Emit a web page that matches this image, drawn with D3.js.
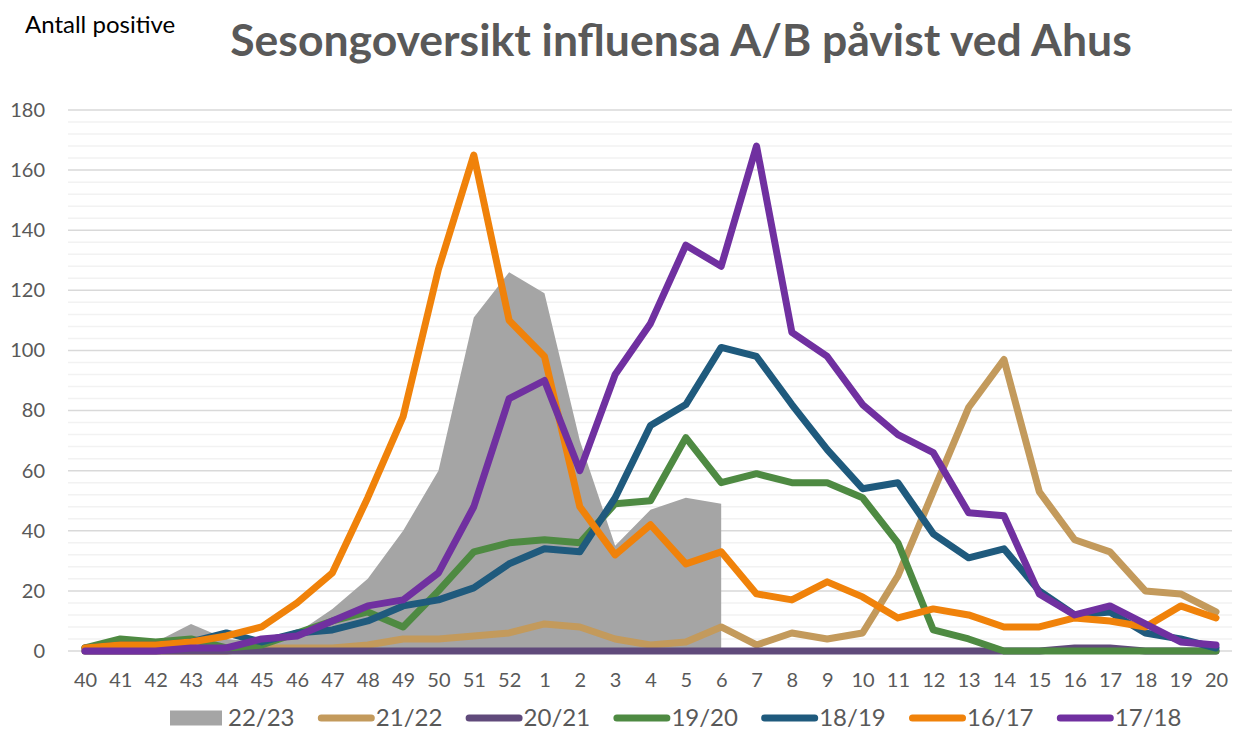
<!DOCTYPE html>
<html>
<head>
<meta charset="utf-8">
<script src="https://cdn.jsdelivr.net/npm/d3@7"></script>
<style>
  body { margin: 0; background: #fff; }
  text { font-family: Lato, "Open Sans", sans-serif; }
</style>
</head>
<body>
<svg id="chart" width="1234" height="731"></svg>
<script>
// weeks, season 40 -> 20
const weeks = ["40","41","42","43","44","45","46","47","48","49","50","51","52",
  "1","2","3","4","5","6","7","8","9","10","11","12","13","14","15","16","17","18","19","20"];

const yTicks = [0, 20, 40, 60, 80, 100, 120, 140, 160, 180];

// 22/23 ends at week 6
const s2223 = [1,2,3,9,4,3,6,14,24,40,60,111,126,119,70,35,47,51,49,
  null,null,null,null,null,null,null,null,null,null,null,null,null,null];
const s2122 = [0,0,0,0,0,1,1,1,2,4,4,5,6,9,8,4,2,3,8,2,6,4,6,25,53,81,97,53,37,33,20,19,13];
const s2021 = [0,0,0,0,0,0,0,0,0,0,0,0,0,0,0,0,0,0,0,0,0,0,0,0,0,0,0,0,1,1,0,0,0];
const s1920 = [1,4,3,4,1,2,6,10,13,8,20,33,36,37,36,49,50,71,56,59,56,56,51,36,7,4,0,0,0,0,0,0,0];
const s1819 = [1,2,2,3,6,3,6,7,10,15,17,21,29,34,33,51,75,82,101,98,82,67,54,56,39,31,34,20,12,13,6,4,1];
const s1617 = [1,2,2,3,5,8,16,26,51,78,127,165,110,98,48,32,42,29,33,19,17,23,18,11,14,12,8,8,11,10,8,15,11];
const s1718 = [0,0,0,1,1,4,5,10,15,17,26,48,84,90,60,92,109,135,128,168,106,98,82,72,66,46,45,19,12,15,9,3,2];

const lineSeries = [
  { name: "21/22", values: s2122, color: "#C39A5C" },
  { name: "20/21", values: s2021, color: "#604A7B" },
  { name: "19/20", values: s1920, color: "#4E8A42" },
  { name: "18/19", values: s1819, color: "#1F5A7D" },
  { name: "16/17", values: s1617, color: "#F0820A" },
  { name: "17/18", values: s1718, color: "#7030A0" }
];

const svg = d3.select("#chart");

const x = d3.scalePoint().domain(weeks).range([85, 1216]);
const y = d3.scaleLinear().domain([0, 180]).range([651, 110]);

// minor grid every 4, major every 20
const minor = d3.range(4, 181, 4).filter(v => v % 20 !== 0);
svg.append("g").selectAll("line")
  .data(minor)
  .enter().append("line")
  .attr("x1", 68).attr("x2", 1232)
  .attr("y1", d => y(d)).attr("y2", d => y(d))
  .attr("stroke", "#F2F2F2")
  .attr("stroke-width", 1.5);

svg.append("g").selectAll("line")
  .data(yTicks)
  .enter().append("line")
  .attr("x1", 68).attr("x2", 1232)
  .attr("y1", d => y(d)).attr("y2", d => y(d))
  .attr("stroke", "#D9D9D9")
  .attr("stroke-width", 1.5);

// gray area 22/23
const area = d3.area()
  .defined(d => d.v !== null)
  .x(d => x(d.w))
  .y0(y(0))
  .y1(d => y(d.v));

svg.append("path")
  .datum(weeks.map((w, i) => ({ w: w, v: s2223[i] })))
  .attr("d", area)
  .attr("fill", "#A5A5A5");

const line = d3.line()
  .x(d => x(d.w))
  .y(d => y(d.v));

svg.selectAll(".series")
  .data(lineSeries)
  .enter().append("path")
  .attr("class", "series")
  .attr("d", s => line(weeks.map((w, i) => ({ w: w, v: s.values[i] }))))
  .attr("fill", "none")
  .attr("stroke", s => s.color)
  .attr("stroke-width", 7)
  .attr("stroke-linejoin", "round")
  .attr("stroke-linecap", "round");

// axes labels
const yAxis = svg.append("g")
  .attr("transform", "translate(62,0)")
  .call(d3.axisLeft(y).tickValues(yTicks).tickSize(0).tickPadding(17));
yAxis.select(".domain").remove();
yAxis.selectAll("text")
  .attr("font-size", 20)
  .attr("fill", "#595959")
  .style("font-family", "Lato, sans-serif");

const xAxis = svg.append("g")
  .attr("transform", "translate(0,673)")
  .call(d3.axisBottom(x).tickSize(0).tickPadding(0));
xAxis.select(".domain").remove();
xAxis.selectAll("text")
  .attr("font-size", 20)
  .attr("fill", "#595959")
  .style("font-family", "Lato, sans-serif");

// titles
svg.append("text")
  .attr("x", 25).attr("y", 33)
  .attr("font-size", 24)
  .attr("fill", "#000")
  .text("Antall positive");

svg.append("text")
  .attr("x", 681).attr("y", 56)
  .attr("text-anchor", "middle")
  .attr("font-size", 44.5)
  .attr("font-weight", "bold")
  .attr("fill", "#595959")
  .text("Sesongoversikt influensa A/B påvist ved Ahus");

// legend
const legendItems = [{ name: "22/23", color: "#A5A5A5", box: true }]
  .concat(lineSeries.map(s => ({ name: s.name, color: s.color, box: false })));

const legend = svg.append("g");
legendItems.forEach((d, i) => {
  const g = legend.append("g").attr("transform", `translate(${170 + i * 147.8},718)`);
  if (d.box) {
    g.append("rect").attr("x", 0).attr("y", -7.5).attr("width", 52).attr("height", 15).attr("fill", d.color);
  } else {
    g.append("line").attr("x1", 3.5).attr("x2", 53.5).attr("y1", 0).attr("y2", 0)
      .attr("stroke", d.color).attr("stroke-width", 7).attr("stroke-linecap", "round");
  }
  g.append("text")
    .attr("x", 58).attr("y", 8)
    .attr("font-size", 24)
    .attr("fill", "#595959")
    .text(d.name);
});
</script>
</body>
</html>
